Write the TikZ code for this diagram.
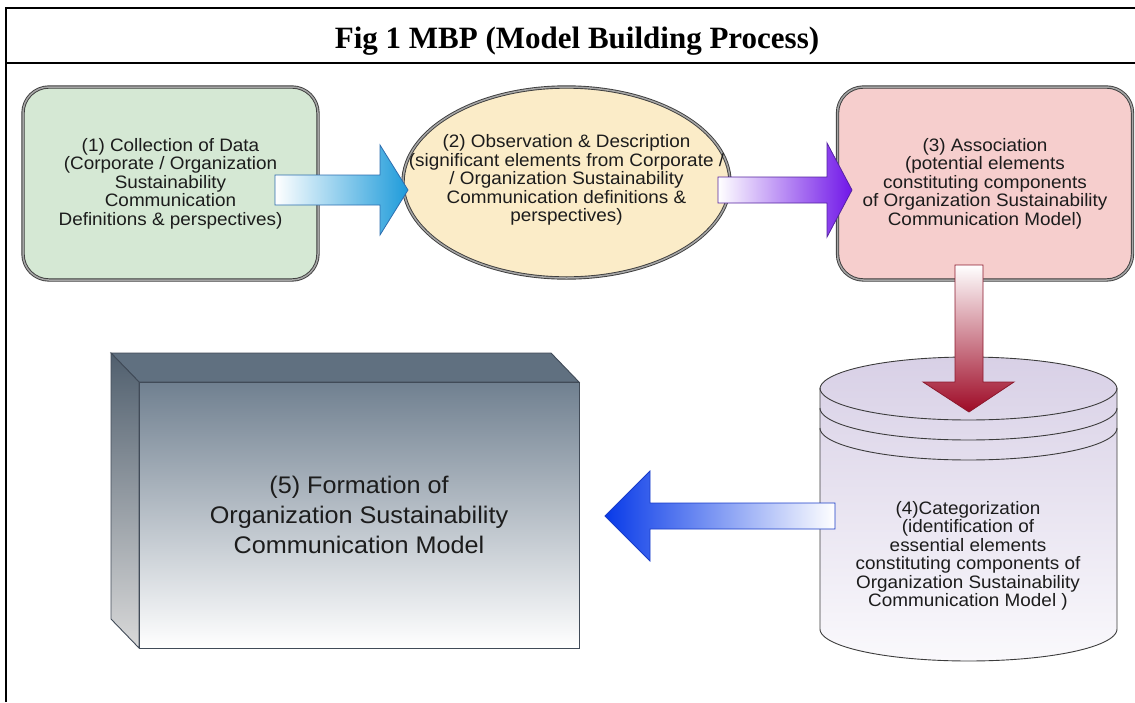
\documentclass[tikz,border=0pt]{standalone}
\usepackage{fontspec}
\setmainfont{Liberation Sans}[FakeStretch=1.05]
\newfontfamily\titlefont{Liberation Serif}
\usetikzlibrary{calc,shapes.geometric}
\definecolor{txt}{RGB}{28,28,28}
\definecolor{gfill}{RGB}{213,232,212}
\definecolor{yfill}{RGB}{251,236,200}
\definecolor{rfill}{RGB}{246,206,205}
\definecolor{bordc}{RGB}{60,60,60}
\definecolor{dblc}{RGB}{165,165,165}
\definecolor{cyltop}{RGB}{216,208,230}
\definecolor{cylbot}{RGB}{250,249,252}
\definecolor{blueA}{RGB}{30,155,218}
\definecolor{blueAd}{RGB}{45,110,175}
\definecolor{purA}{RGB}{112,22,232}
\definecolor{purAd}{RGB}{85,35,160}
\definecolor{redA}{RGB}{158,10,38}
\definecolor{redAd}{RGB}{140,25,45}
\definecolor{blueB}{RGB}{8,58,232}
\definecolor{blueBd}{RGB}{25,60,200}
\definecolor{slateT}{RGB}{96,112,128}
\definecolor{slateF}{RGB}{112,128,144}
\definecolor{slateL}{RGB}{80,95,110}
\definecolor{slateE}{RGB}{65,75,88}
\begin{document}
\begin{tikzpicture}[x=1pt,y=-1pt,
  boxtext/.style={text=txt, align=center, font=\fontsize{18}{18.5}\selectfont},
  dbl/.style={draw=bordc, double=dblc, double distance=1.5pt, line width=0.9pt},
  rbox/.style={dbl, rounded corners=26pt, minimum width=295pt, minimum height=193pt, inner sep=0pt, boxtext},
  blockarrow/.style={line width=0.8pt, line join=miter}
]
\useasboundingbox (0,0) rectangle (1135,702);
% frame
\draw[line width=2.2pt] (6,702) -- (6,8) -- (1135,8);
\draw[line width=2.2pt] (6,63) -- (1135,63);
\node[font=\titlefont\bfseries\fontsize{31}{31}\selectfont, anchor=base] (title) at (577,48) {Fig 1 MBP (Model Building Process)};

% (1)
\node[rbox, fill=gfill] (n1) at (170.5,183.5) {(1) Collection of Data\\(Corporate / Organization\\Sustainability\\Communication\\Definitions \& perspectives)};

% (2)
\node[ellipse, dbl, fill=yfill, minimum width=327pt, minimum height=191pt, inner sep=0pt] (n2) at (566.5,182.5) {};
\node[boxtext] (n2t) at (566.5,180) {(2) Observation \& Description\\(significant elements from Corporate /\\/ Organization Sustainability\\Communication definitions \&\\perspectives)};

% (3)
\node[rbox, fill=rfill] (n3) at (985,183.5) {(3) Association\\(potential elements\\constituting components\\of Organization Sustainability\\Communication Model)};

% (4) cylinder
\shade[top color=cyltop, bottom color=cylbot, draw=bordc, line width=0.9pt]
  (820,389) -- (820,629)
  -- plot[domain=180:0, samples=60] ({968.5+148.5*cos(\x)},{629+32*sin(\x)})
  -- (1117,389)
  -- plot[domain=0:-180, samples=60] ({968.5+148.5*cos(\x)},{389+32*sin(\x)})
  -- cycle;
\foreach \cy in {388,408,428}
  \draw[draw=bordc, line width=0.9pt] plot[domain=0:180, samples=60] ({968.5+148.5*cos(\x)},{\cy+32*sin(\x)});
\node[boxtext] (n4) at (968,556) {(4)Categorization\\(identification of\\essential elements\\constituting components of\\Organization Sustainability\\Communication Model )};

% (5) 3D box
\fill[slateT, draw=slateE, line width=0.9pt] (111,353) -- (551,353) -- (579,382) -- (139,382) -- cycle;
\shade[top color=slateL, bottom color=black!15, draw=slateE, line width=0.9pt] (111,353) -- (139,382) -- (139,648) -- (111,619) -- cycle;
\node[shade, top color=slateF, bottom color=white, draw=slateE, line width=0.9pt, minimum width=440pt, minimum height=266pt, inner sep=0pt, text=txt, align=center, font=\fontsize{24}{30}\selectfont] (n5) at (359,515) {(5) Formation of\\Organization Sustainability\\Communication Model};

% arrows
\coordinate (a1) at (275,190);
\coordinate (a1tip) at (408,190);
\shade[blockarrow, left color=white, right color=blueA, draw=blueAd]
  (a1) ++(0,-15) -- ++(105,0) -- ++(0,-30) -- (a1tip) -- ++(-28,45) -- ++(0,-30) -- ++(-105,0) -- cycle;

\coordinate (a2) at (718,190);
\coordinate (a2tip) at (852,190);
\shade[blockarrow, left color=white, right color=purA, draw=purAd]
  (a2) ++(0,-13) -- ++(109,0) -- ++(0,-34) -- (a2tip) -- ++(-25,47) -- ++(0,-34) -- ++(-109,0) -- cycle;

\coordinate (a3) at (969,265);
\coordinate (a3tip) at (969,412);
\shade[blockarrow, top color=white, bottom color=redA, draw=redAd]
  (a3) ++(-14,0) -- ++(0,117) -- ++(-32,0) -- (a3tip) -- ++(45,-30) -- ++(-31,0) -- ++(0,-117) -- cycle;

\coordinate (a4) at (835,516);
\coordinate (a4tip) at (605,516);
\shade[blockarrow, left color=blueB, right color=white, draw=blueBd]
  (a4) ++(0,-13) -- ++(-185,0) -- ++(0,-32) -- (a4tip) -- ++(45,45) -- ++(0,-32) -- ++(185,0) -- cycle;
\end{tikzpicture}
\end{document}
